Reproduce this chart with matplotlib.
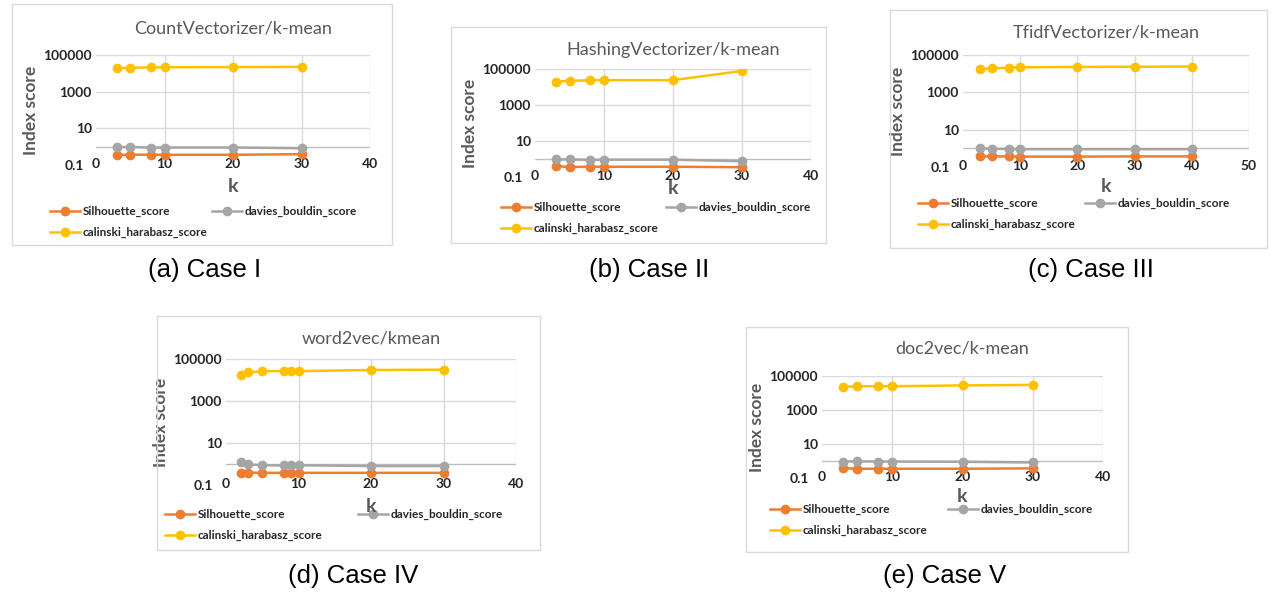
import matplotlib
matplotlib.use('Agg')
import matplotlib.pyplot as plt
from matplotlib.patches import Rectangle
from matplotlib.lines import Line2D

W, H = 1273, 593

# Values (log y axis)
k_a = [3, 5, 8, 10, 20, 30]
sil_a = [0.37, 0.36, 0.37, 0.36, 0.36, 0.39]
db_a = [0.95, 0.95, 0.9, 0.9, 0.9, 0.82]
ch_a = [19300, 20000, 21000, 21500, 22000, 22500]

k_b = [3, 5, 8, 10, 20, 30]
sil_b = [0.4, 0.36, 0.37, 0.37, 0.37, 0.35]
db_b = [0.95, 0.95, 0.9, 0.92, 0.92, 0.75]
ch_b = [20000, 22000, 24000, 24000, 24000, 78000]

k_c = [3, 5, 8, 10, 20, 30, 40]
sil_c = [0.37, 0.37, 0.37, 0.36, 0.36, 0.37, 0.37]
db_c = [1.0, 0.95, 0.92, 0.9, 0.9, 0.9, 0.9]
ch_c = [18000, 19000, 21000, 22000, 23000, 23500, 24000]

k_d = [2, 3, 5, 8, 9, 10, 20, 30]
sil_d = [0.39, 0.39, 0.38, 0.38, 0.38, 0.38, 0.38, 0.38]
db_d = [1.25, 0.95, 0.88, 0.85, 0.87, 0.87, 0.8, 0.8]
ch_d = [18000, 23000, 26000, 27000, 27000, 26500, 30000, 31000]

k_e = [3, 5, 8, 10, 20, 30]
sil_e = [0.38, 0.35, 0.35, 0.35, 0.35, 0.37]
db_e = [0.93, 0.95, 0.93, 0.93, 0.9, 0.82]
ch_e = [23000, 25000, 25000, 25000, 28000, 30000]

titles = ['CountVectorizer/k-mean', 'HashingVectorizer/k-mean', 'TfidfVectorizer/k-mean',
          'word2vec/kmean', 'doc2vec/k-mean']
captions = ['(a) Case I', '(b) Case II', '(c) Case III', '(d) Case IV', '(e) Case V']
series_names = ['Silhouette_score', 'davies_bouldin_score', 'calinski_harabasz_score']
xmax = [40, 40, 50, 40, 40]

C_SIL, C_DB, C_CH = '#ED7D31', '#A5A5A5', '#FFC000'
GRID = '#D9D9D9'
TXT = '#595959'

# pixel layout: box (x0, y0, x1, y1), plot area (x0, y_top, x1, y_bottom),
# title y, k-label y, legend (col1 x, col2 x, row1 y), caption (x, y)
layout = [
    dict(box=(12, 4, 392, 245), plot=(96, 55, 370, 165), ty=28, ky=186,
         leg=(50, 212, 211), cap=(205, 270)),
    dict(box=(451, 27, 826, 243), plot=(535, 69, 811, 177), ty=50, ky=189,
         leg=(501, 666, 207), cap=(649, 270)),
    dict(box=(890, 10, 1267, 248), plot=(963, 55, 1249, 167), ty=33, ky=187,
         leg=(918, 1085, 203), cap=(1091, 270)),
    dict(box=(157, 316, 540, 550), plot=(226, 359, 516, 485), ty=339, ky=507,
         leg=(165, 358, 514), cap=(353, 576)),
    dict(box=(746, 327, 1128, 552), plot=(822, 376, 1103, 478), ty=348, ky=496,
         leg=(770, 948, 509), cap=(945, 576)),
]

data = [(k_a, sil_a, db_a, ch_a), (k_b, sil_b, db_b, ch_b), (k_c, sil_c, db_c, ch_c),
        (k_d, sil_d, db_d, ch_d), (k_e, sil_e, db_e, ch_e)]

plt.rcParams['font.family'] = ['Lato', 'DejaVu Sans']

fig = plt.figure(figsize=(W / 100, H / 100), dpi=100)
fig.patch.set_facecolor('white')


def fx(x):
    return x / W


def fy(y):
    return 1 - y / H


for i, (lay, (k, sil, db, ch)) in enumerate(zip(layout, data)):
    bx0, by0, bx1, by1 = lay['box']
    fig.add_artist(Rectangle((fx(bx0), fy(by1)), fx(bx1 - bx0), (by1 - by0) / H,
                             transform=fig.transFigure, fill=False,
                             edgecolor=GRID, linewidth=1))
    px0, pyt, px1, pyb = lay['plot']
    ax = fig.add_axes([fx(px0), fy(pyb), fx(px1 - px0), (pyb - pyt) / H])
    ax.set_yscale('log')
    ax.set_ylim(0.1, 100000)
    ax.set_xlim(0, xmax[i])
    for s in ax.spines.values():
        s.set_visible(False)
    # gridlines
    for yv in [10, 1000, 100000]:
        ax.axhline(yv, color=GRID, linewidth=1, zorder=0)
    ax.vlines(range(10, xmax[i] + 1, 10), 1, 100000, color=GRID, linewidth=1, zorder=0)
    ax.axhline(1, color='#BFBFBF', linewidth=1, zorder=1)

    ax.plot(k, sil, color=C_SIL, marker='o', markersize=6, linewidth=1.8, zorder=3)
    ax.plot(k, db, color=C_DB, marker='o', markersize=6, linewidth=1.8, zorder=3)
    ax.plot(k, ch, color=C_CH, marker='o', markersize=6, linewidth=1.8, zorder=3)

    ax.set_yticks([0.1, 10, 1000, 100000])
    ax.set_yticklabels(['0.1', '10', '1000', '100000'])
    ax.minorticks_off()
    ax.set_xticks(range(0, xmax[i] + 1, 10))
    ax.tick_params(length=0, labelsize=10, labelcolor='#262626', pad=3)
    ax.tick_params(axis='x', pad=-5)
    for lab in ax.get_xticklabels() + ax.get_yticklabels():
        lab.set_fontweight('bold')
    ax.get_yticklabels()[0].set_x(-0.03)
    ax.set_ylabel('Index score', fontsize=12.5, color=TXT, fontweight='bold', labelpad=3)
    ax.patch.set_alpha(0)

    fig.text(fx((px0 + px1) / 2), fy(lay['ty']), titles[i], ha='center', va='center',
             fontsize=13, color=TXT)
    fig.text(fx((px0 + px1) / 2), fy(lay['ky']), 'k', ha='center', va='center',
             fontsize=14, color=TXT, fontweight='bold')
    fig.text(fx(lay['cap'][0]), fy(lay['cap'][1]), captions[i], ha='center', va='center',
             fontsize=18.5, color='black', family='Liberation Sans')

    # legend: two columns, third entry on second row
    c1, c2, ry = lay['leg']
    entries = [(c1, ry, C_SIL, series_names[0]), (c2, ry, C_DB, series_names[1]),
               (c1, ry + 21, C_CH, series_names[2])]
    for lx, ly, col, name in entries:
        fig.add_artist(Line2D([fx(lx), fx(lx + 30)], [fy(ly), fy(ly)],
                              transform=fig.transFigure, color=col, linewidth=1.8))
        fig.add_artist(Line2D([fx(lx + 15)], [fy(ly)], transform=fig.transFigure,
                              color=col, marker='o', markersize=6))
        fig.text(fx(lx + 33), fy(ly), name, ha='left', va='center', fontsize=8.5,
                 color='#262626', fontweight='bold')

fig.savefig('out.png', dpi=100)
